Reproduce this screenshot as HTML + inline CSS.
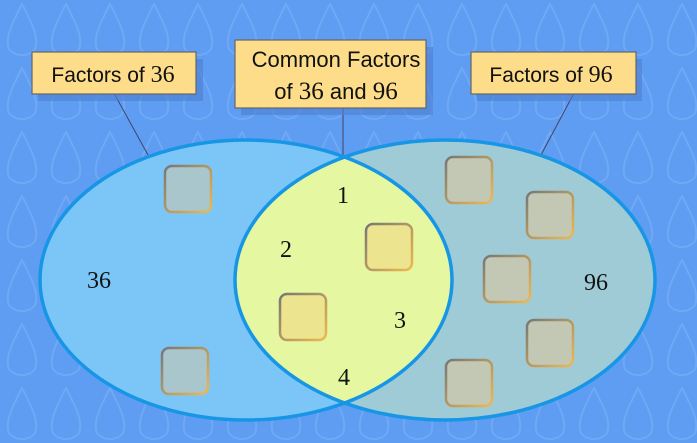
<!DOCTYPE html><html><head><style>body{margin:0}svg{display:block}</style></head><body>
<svg width="697" height="443" viewBox="0 0 697 443" xmlns="http://www.w3.org/2000/svg">
<defs>
<pattern id="p" width="44" height="64" patternUnits="userSpaceOnUse">
<path d="M22 4 C14 20 6 34 8 46 C10 58 34 58 36 46 C38 34 30 20 22 4Z" fill="none" stroke="#8cbdf6" stroke-width="2" opacity="0.35"/>
</pattern>
<clipPath id="cl"><ellipse cx="246" cy="280" rx="206" ry="140"/></clipPath>
<linearGradient id="sq" x1="0" y1="0" x2="1" y2="1"><stop offset="0" stop-color="#777"/><stop offset="1" stop-color="#f0b850"/></linearGradient>
</defs>
<rect width="697" height="443" fill="#5f9df2"/>
<rect width="697" height="443" fill="url(#p)"/>
<line x1="115" y1="95" x2="148" y2="155" stroke="#446" stroke-width="1"/>
<line x1="343" y1="108" x2="343" y2="157" stroke="#446" stroke-width="1"/>
<line x1="573" y1="95" x2="541" y2="155" stroke="#446" stroke-width="1"/>
<ellipse cx="246" cy="280" rx="206" ry="140" fill="#7cc6f7"/>
<ellipse cx="445" cy="280" rx="210" ry="140" fill="#9fcbd6"/>
<ellipse cx="445" cy="280" rx="210" ry="140" fill="#e6f7a2" clip-path="url(#cl)"/>
<ellipse cx="246" cy="280" rx="206" ry="140" fill="none" stroke="#1796e6" stroke-width="3.5"/>
<ellipse cx="445" cy="280" rx="210" ry="140" fill="none" stroke="#1796e6" stroke-width="3.5"/>
<g stroke="url(#sq)" stroke-width="2.5">
<rect x="165" y="166" width="46" height="46" rx="7" fill="#a8c6cc"/>
<rect x="162" y="348" width="46" height="46" rx="7" fill="#a8c6cc"/>
<rect x="366" y="224" width="46" height="46" rx="7" fill="#ece48e"/>
<rect x="280" y="294" width="46" height="46" rx="7" fill="#ece48e"/>
<rect x="446" y="157" width="46" height="46" rx="7" fill="#c2c8b4"/>
<rect x="527" y="192" width="46" height="46" rx="7" fill="#c2c8b4"/>
<rect x="484" y="256" width="46" height="46" rx="7" fill="#c2c8b4"/>
<rect x="527" y="320" width="46" height="46" rx="7" fill="#c2c8b4"/>
<rect x="446" y="360" width="46" height="46" rx="7" fill="#c2c8b4"/>
</g>
<g font-family="Liberation Serif, serif" font-size="24" fill="#111" text-anchor="middle">
<text x="343" y="203">1</text><text x="286" y="257">2</text><text x="400" y="328">3</text><text x="344" y="385">4</text>
<text x="99" y="288">36</text><text x="596" y="290">96</text>
</g>
<g fill="#4c7fd0" opacity="0.6"><rect x="38" y="59" width="165" height="42"/><rect x="241" y="47" width="192" height="68"/><rect x="477" y="59" width="165" height="42"/></g>
<g fill="#fddc8a" stroke="#666" stroke-width="1.2">
<rect x="32" y="52" width="164" height="42"/><rect x="235" y="40" width="191" height="68"/><rect x="471" y="52" width="165" height="42"/>
</g>
<g font-family="Liberation Sans, sans-serif" font-size="21" fill="#111" text-anchor="middle">
<text x="113" y="82">Factors of <tspan font-family="Liberation Serif, serif" font-size="24">36</tspan></text>
<text x="336" y="67" font-size="22">Common Factors</text>
<text x="336" y="99" font-size="22">of <tspan font-family="Liberation Serif, serif" font-size="25">36</tspan> and <tspan font-family="Liberation Serif, serif" font-size="25">96</tspan></text>
<text x="551" y="82">Factors of <tspan font-family="Liberation Serif, serif" font-size="24">96</tspan></text>
</g>
</svg></body></html>
